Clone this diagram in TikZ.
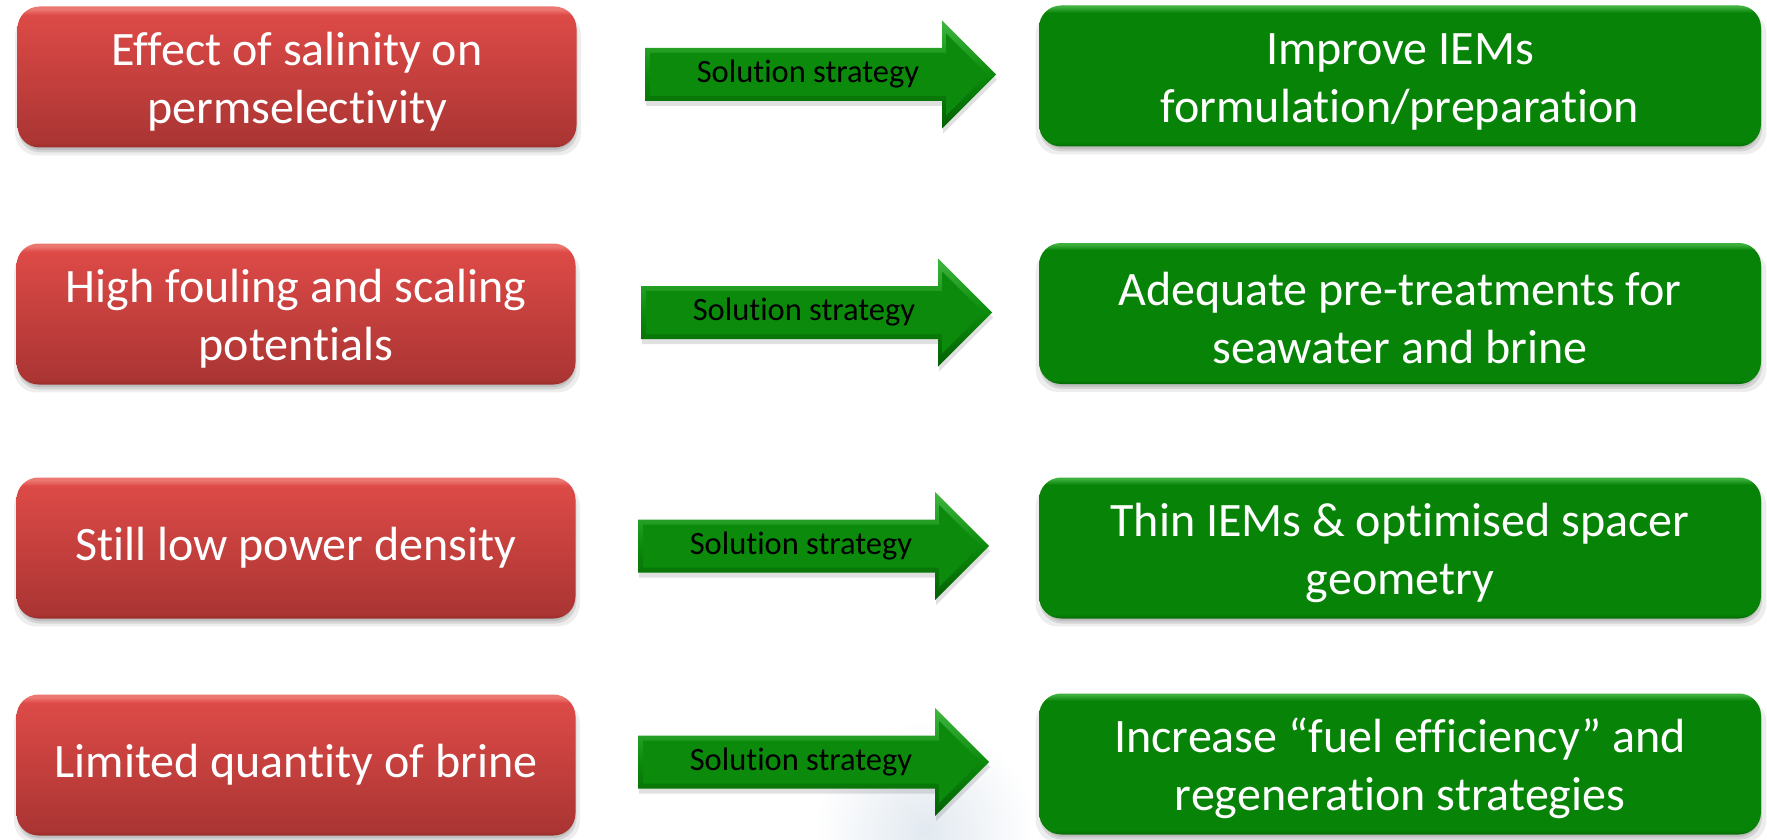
\documentclass[tikz,border=0pt]{standalone}
\usepackage{fontspec}
\setmainfont{Carlito}[Ligatures={NoCommon,NoContextual}]
\usetikzlibrary{shadows}

\definecolor{redtop}{RGB}{221,74,71}
\definecolor{redbot}{RGB}{170,53,51}
\definecolor{redlow}{RGB}{150,44,42}
\definecolor{redrim}{RGB}{236,118,112}
\definecolor{greenbox}{RGB}{7,132,7}
\definecolor{greenlow}{RGB}{4,105,4}
\definecolor{greenrim}{RGB}{62,176,62}
\definecolor{arrowgreen}{RGB}{11,138,11}
\definecolor{arrowlight}{RGB}{64,182,64}
\definecolor{arrowdark}{RGB}{4,96,4}
\definecolor{haze}{RGB}{226,233,240}

% bevelled faces: the path box is mapped onto 25bp--75bp
\pgfdeclareverticalshading{redface}{100bp}{color(0bp)=(redlow); color(25bp)=(redlow);
  color(26.5bp)=(redbot); color(72bp)=(redtop); color(74bp)=(redrim); color(100bp)=(redrim)}
\pgfdeclareverticalshading{greenface}{100bp}{color(0bp)=(greenlow); color(25bp)=(greenlow);
  color(26.5bp)=(greenbox); color(72.5bp)=(greenbox); color(74.5bp)=(greenrim); color(100bp)=(greenrim)}
\pgfdeclareverticalshading{arrowface}{100bp}{color(0bp)=(arrowdark); color(25bp)=(arrowdark);
  color(50bp)=(arrowgreen); color(75bp)=(arrowlight); color(100bp)=(arrowlight)}

% taller first line, so that two-line texts sit a little lower
\newcommand\firstline{\rule{0pt}{43pt}}

\tikzset{
  softshadow/.style={
    general shadow={fill=black, opacity=.07, shadow xshift=1pt, shadow yshift=-7pt, shadow scale=1.012},
    general shadow={fill=black, opacity=.10, shadow xshift=1pt, shadow yshift=-5pt},
    general shadow={fill=black, opacity=.10, shadow xshift=0.5pt, shadow yshift=-3pt, shadow scale=0.995}},
  card/.style={rounded corners=22pt, minimum height=141pt, align=center,
    text=white, font=\fontsize{48}{58}\selectfont, inner sep=0pt, softshadow},
  problem/.style={card, minimum width=559pt, shading=redface},
  remedy/.style={card, minimum width=722pt, shading=greenface},
  strategytext/.style={text=black, font=\fontsize{32.5}{38}\selectfont, inner sep=0pt},
}

% block arrow: #1 name of its label, (#2,#3) middle of the tail end
\newcommand\strategyarrow[3]{%
  \begin{scope}[shift={(#2,#3)}]
    \fill[black, opacity=.12, shift={(1,5)}]
      (0,-26.5) -- (297,-26.5) -- (297,-54) -- (351,0) -- (297,54) -- (297,26.5) -- (0,26.5) -- cycle;
    \shade[shading=arrowface]
      (0,-26.5) -- (297,-26.5) -- (297,-54) -- (351,0) -- (297,54) -- (297,26.5) -- (0,26.5) -- cycle;
    \fill[arrowgreen]
      (5,-21.5) -- (301,-21.5) -- (301,-41) -- (342,0) -- (301,41) -- (301,21.5) -- (5,21.5) -- cycle;
    \node[strategytext] (#1) at (163,0) {Solution strategy};
  \end{scope}}

\begin{document}
\begin{tikzpicture}[x=1pt, y=-1pt]
  \useasboundingbox[fill=white] (0,0) rectangle (1767,840);

  % faint backdrop showing through at the lower right
  \shade[inner color=haze, outer color=white] (925,830) circle [radius=110];

  % problems
  \node[problem] (p1) at (297,77)  {\firstline Effect of salinity on\\permselectivity};
  \node[problem] (p2) at (296,314) {\firstline High fouling and scaling\\potentials};
  \node[problem] (p3) at (296,548) {Still low power density};
  \node[problem] (p4) at (296,765) {Limited quantity of brine};

  % strategies
  \strategyarrow{s1}{645}{74.5}
  \strategyarrow{s2}{641}{312.5}
  \strategyarrow{s3}{638}{546}
  \strategyarrow{s4}{638}{762}

  % remedies
  \node[remedy] (r1) at (1400,76)    {\firstline Improve IEMs\\formulation/preparation};
  \node[remedy] (r2) at (1400,313.5) {\firstline Adequate pre-treatments for\\seawater and brine};
  \node[remedy] (r3) at (1400,548)   {\firstline Thin IEMs \& optimised spacer\\geometry};
  \node[remedy] (r4) at (1400,764)   {\firstline Increase “fuel efficiency” and\\regeneration strategies};
\end{tikzpicture}
\end{document}
